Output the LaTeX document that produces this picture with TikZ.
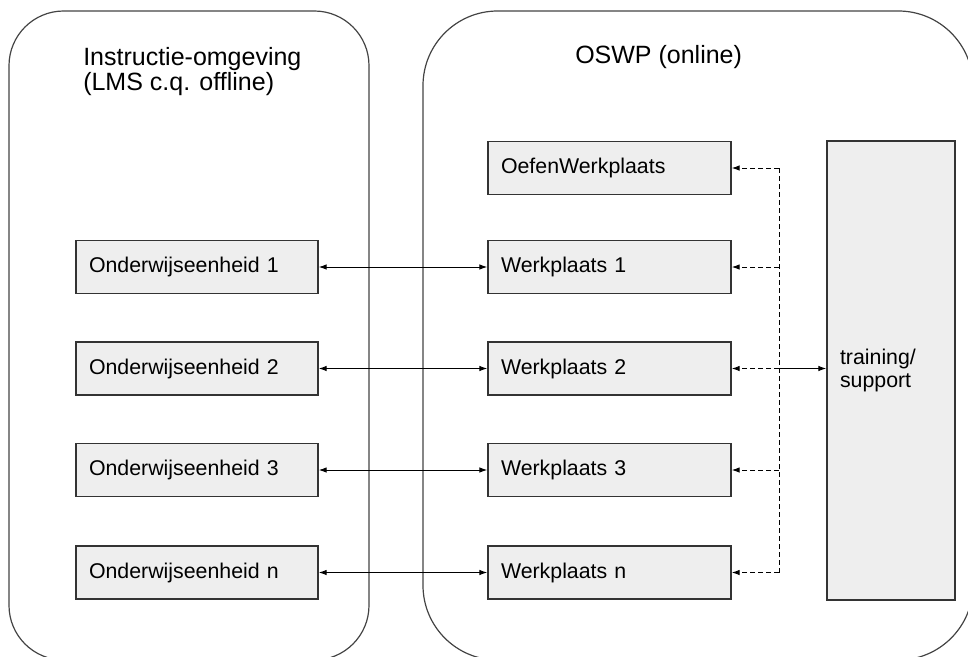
\documentclass[tikz,border=0pt]{standalone}
\usepackage{fontspec}
\setmainfont{Liberation Sans}
\usetikzlibrary{arrows.meta}
\definecolor{boxfill}{HTML}{EEEEEE}
\definecolor{boxline}{HTML}{333333}
\definecolor{contline}{HTML}{444444}
\begin{document}
\begin{tikzpicture}[x=0.75pt,y=-0.75pt,
  container/.style={draw=contline,line width=0.9pt},
  unitbox/.style={draw=boxline,fill=boxfill,line width=1.1pt,minimum height=39.75pt,
     inner xsep=9.75pt,inner ysep=0pt,align=left,font=\fontsize{16}{17.25}\selectfont},
  leftbox/.style={unitbox,text width=162pt},
  rightbox/.style={unitbox,text width=162.75pt},
  title/.style={inner sep=0pt,anchor=base west,align=left,font=\fontsize{18.75}{18.75}\selectfont},
  biarrow/.style={line width=0.75pt,{Latex[length=6pt,width=4.2pt]}-{Latex[length=6pt,width=4.2pt]}},
  dasharrow/.style={line width=0.75pt,dash pattern=on 3.5pt off 2.5pt,-{Latex[length=6pt,width=4.2pt]}},
  solidarrow/.style={line width=0.75pt,-{Latex[length=6pt,width=4.2pt]}}
]
\useasboundingbox (0,0) rectangle (968,657);
\clip (0,0) rectangle (968,657);
% containers
\draw[container,rounded corners=41pt] (9,11) rectangle (369,660);
\draw[container,rounded corners=56pt] (423,11) rectangle (973,660);
% titles
\node[title] (t1) at (83,90) {Instructie-omgeving\\(LMS c.q. offline)};
\node[title] (t2) at (575,63) {OSWP (online)};
% left boxes
\node[leftbox] (le1) at (197,267) {Onderwijseenheid 1};
\node[leftbox] (le2) at (197,368.5) {Onderwijseenheid 2};
\node[leftbox] (le3) at (197,470) {Onderwijseenheid 3};
\node[leftbox] (len) at (197,572.5) {Onderwijseenheid n};
% right boxes
\node[rightbox] (wp0) at (609.5,168) {OefenWerkplaats};
\node[rightbox] (wp1) at (609.5,267) {Werkplaats 1};
\node[rightbox] (wp2) at (609.5,368.5) {Werkplaats 2};
\node[rightbox] (wp3) at (609.5,470) {Werkplaats 3};
\node[rightbox] (wpn) at (609.5,572.5) {Werkplaats n};
% training box
\node[unitbox,minimum width=96pt,minimum height=344.25pt,text width=76.5pt] (ts) at (891,370.5) {training/\\support};
% bidirectional arrows
\draw[biarrow] (le1.east) -- (wp1.west);
\draw[biarrow] (le2.east) -- (wp2.west);
\draw[biarrow] (le3.east) -- (wp3.west);
\draw[biarrow] (len.east) -- (wpn.west);
% dashed distribution
\coordinate (j0) at (779,168);
\coordinate (j1) at (779,267);
\coordinate (j2) at (779,368.5);
\coordinate (j3) at (779,470);
\coordinate (jn) at (779,572.5);
\draw[line width=0.75pt,dash pattern=on 3.5pt off 2.5pt] (j0) -- (jn);
\draw[dasharrow] (j0) -- (wp0.east);
\draw[dasharrow] (j1) -- (wp1.east);
\draw[dasharrow] (j2) -- (wp2.east);
\draw[dasharrow] (j3) -- (wp3.east);
\draw[dasharrow] (jn) -- (wpn.east);
\draw[solidarrow] (j2) -- (j2 -| ts.west);
\end{tikzpicture}
\end{document}
